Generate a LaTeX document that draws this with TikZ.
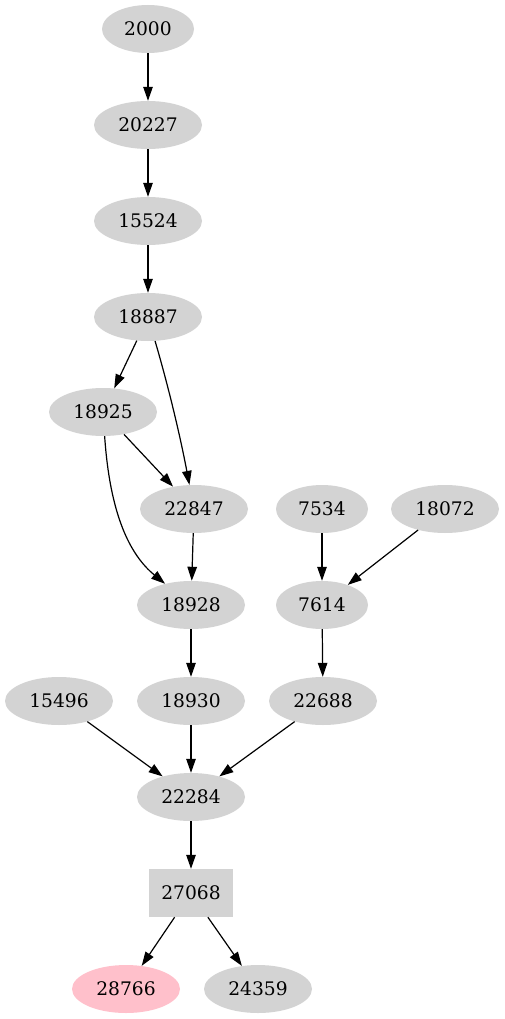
\documentclass[tikz,border=0pt]{standalone}
\usepackage{fontspec}
\setmainfont{DejaVu Serif}
\usetikzlibrary{shapes.geometric,arrows.meta}
\definecolor{gvgray}{HTML}{D3D3D3}
\definecolor{gvpink}{HTML}{FFC0CB}
\begin{document}
\begin{tikzpicture}[x=1pt,y=-1pt,
  base/.style={fill=gvgray, draw=none, inner sep=0pt, font=\fontsize{18.67}{22}\selectfont},
  en/.style={base, ellipse, minimum width=108pt, minimum height=48pt},
  es/.style={base, ellipse, minimum width=92pt, minimum height=48pt},
  bx/.style={base, rectangle, minimum width=84pt, minimum height=48pt},
  edge/.style={-{Triangle[length=14pt,width=9.5pt]}, line width=1.2pt, black}]
\useasboundingbox (0,0) rectangle (505,1019);
\node[es] (n2000)  at (148,29)  {2000};
\node[en] (n20227) at (148,125) {20227};
\node[en] (n15524) at (148,221) {15524};
\node[en] (n18887) at (148,317) {18887};
\node[en] (n18925) at (103,412) {18925};
\node[en] (n22847) at (194,509) {22847};
\node[es] (n7534)  at (322,509) {7534};
\node[en] (n18072) at (445,509) {18072};
\node[en] (n18928) at (191,605) {18928};
\node[es] (n7614)  at (322,605) {7614};
\node[en] (n15496) at (59,701)  {15496};
\node[en] (n18930) at (191,701) {18930};
\node[en] (n22688) at (323,701) {22688};
\node[en] (n22284) at (191,797) {22284};
\node[bx] (n27068) at (191,893) {27068};
\node[en, fill=gvpink] (n28766) at (126,989) {28766};
\node[en] (n24359) at (258,989) {24359};
\draw[edge] (n2000) -- (n20227);
\draw[edge] (n20227) -- (n15524);
\draw[edge] (n15524) -- (n18887);
\draw[edge] (n18887) -- (n18925);
\draw[edge] (n18887) .. controls (168,385) and (180,435) .. (n22847);
\draw[edge] (n18925) -- (n22847);
\draw[edge] (n18925) .. controls (110,515) and (130,555) .. (n18928);
\draw[edge] (n22847) -- (n18928);
\draw[edge] (n7534) -- (n7614);
\draw[edge] (n18072) -- (n7614);
\draw[edge] (n18928) -- (n18930);
\draw[edge] (n7614) -- (n22688);
\draw[edge] (n15496) -- (n22284);
\draw[edge] (n18930) -- (n22284);
\draw[edge] (n22688) -- (n22284);
\draw[edge] (n22284) -- (n27068);
\draw[edge] (n27068) -- (n28766);
\draw[edge] (n27068) -- (n24359);
\end{tikzpicture}
\end{document}
